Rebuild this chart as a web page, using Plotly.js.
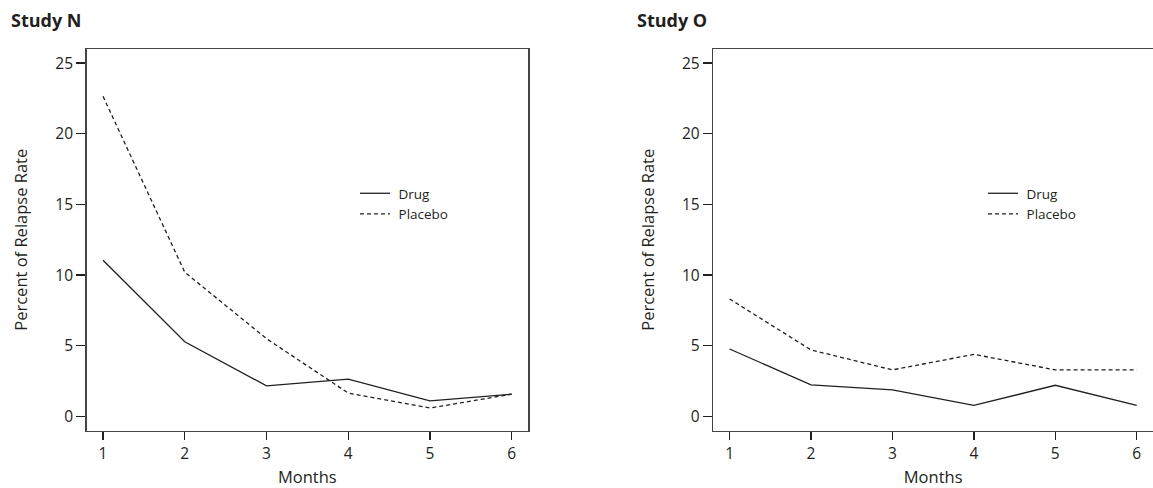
<!DOCTYPE html>
<html>
<head>
<meta charset="utf-8">
<script src="https://cdn.plot.ly/plotly-3.0.1.min.js"></script>
<style>html,body{margin:0;padding:0;background:#fff}#chart{width:1153px;height:488px}</style>
</head>
<body>
<div id="chart"></div>
<script>
const months = [1, 2, 3, 4, 5, 6];
const studyNDrug = [11.05, 5.28, 2.16, 2.63, 1.1, 1.57];
const studyNPlacebo = [22.65, 10.2, 5.5, 1.65, 0.59, 1.57];
const studyODrug = [4.77, 2.23, 1.88, 0.78, 2.2, 0.78];
const studyOPlacebo = [8.31, 4.7, 3.29, 4.39, 3.29, 3.29];
const yTicks = [0, 5, 10, 15, 20, 25];
const panelTitles = ["Study N", "Study O"];
const seriesNames = ["Drug", "Placebo"];
const xTitle = "Months";
const yTitle = "Percent of Relapse Rate";

const FONT = "Open Sans, Noto Sans, sans-serif";
const ink = "#231f20";
const W = 1153, H = 488;
const NB = "\u00a0";

function line(x, y, name, dash, xa, ya, legend) {
  return {
    x: x, y: y, name: NB + name, type: "scatter", mode: "lines",
    xaxis: xa, yaxis: ya, legend: legend,
    line: {color: ink, width: 1.3, dash: dash}
  };
}

const data = [
  line(months, studyNDrug, seriesNames[0], "solid", "x", "y", "legend"),
  line(months, studyNPlacebo, seriesNames[1], "4px,3px", "x", "y", "legend"),
  line(months, studyODrug, seriesNames[0], "solid", "x2", "y2", "legend2"),
  line(months, studyOPlacebo, seriesNames[1], "4px,3px", "x2", "y2", "legend2")
];

const plotTop = 49, plotBottom = 430.5;
const yDom = [(H - plotBottom) / H, (H - plotTop) / H];

function xax(domain) {
  return {
    domain: domain, range: [0.8, 6.2], tickvals: months,
    ticks: "outside", ticklen: 8, tickwidth: 1.3, tickcolor: ink,
    showline: true, mirror: true, linecolor: "#444", linewidth: 1.5,
    showgrid: false, zeroline: false,
    tickfont: {family: FONT, size: 15.5, color: ink},
    title: {text: xTitle, font: {family: FONT, size: 16.5, color: ink}, standoff: 11},
    fixedrange: true
  };
}
function yax(domain, anchor, mirror) {
  return {
    domain: domain, range: [-1, 26], tickvals: yTicks, anchor: anchor,
    ticks: "outside", ticklen: 9, tickwidth: 1.3, tickcolor: ink,
    showline: true, mirror: mirror, linecolor: "#444", linewidth: 1.5,
    showgrid: false, zeroline: false,
    tickfont: {family: FONT, size: 15.5, color: ink},
    title: {text: yTitle, font: {family: FONT, size: 16.5, color: ink}, standoff: 23},
    fixedrange: true
  };
}

const layout = {
  width: W, height: H,
  margin: {l: 0, r: 0, t: 0, b: 0},
  paper_bgcolor: "#fff", plot_bgcolor: "#fff",
  font: {family: FONT, color: ink},
  showlegend: true,
  xaxis: Object.assign(xax([86.7 / W, 528 / W]), {anchor: "y"}),
  yaxis: yax(yDom, "x", true),
  xaxis2: Object.assign(xax([713.3 / W, 1]), {anchor: "y2"}),
  yaxis2: yax(yDom, "x2", false),
  legend: {
    x: 355 / W, y: (H - 178) / H, xanchor: "left", yanchor: "top",
    font: {family: FONT, size: 13.5, color: ink}, bgcolor: "rgba(0,0,0,0)",
    tracegroupgap: 0, itemwidth: 30
  },
  legend2: {
    x: 983 / W, y: (H - 178) / H, xanchor: "left", yanchor: "top",
    font: {family: FONT, size: 13.5, color: ink}, bgcolor: "rgba(0,0,0,0)",
    tracegroupgap: 0, itemwidth: 30
  },
  annotations: [
    {text: "<b>" + panelTitles[0] + "</b>", xref: "paper", yref: "paper",
     x: 9 / W, y: (H - 20) / H, xanchor: "left", yanchor: "middle", showarrow: false,
     font: {family: FONT, size: 18, color: ink}},
    {text: "<b>" + panelTitles[1] + "</b>", xref: "paper", yref: "paper",
     x: 635 / W, y: (H - 20) / H, xanchor: "left", yanchor: "middle", showarrow: false,
     font: {family: FONT, size: 18, color: ink}}
  ]
};

Plotly.newPlot("chart", data, layout, {displayModeBar: false, staticPlot: true});
</script>
</body>
</html>
